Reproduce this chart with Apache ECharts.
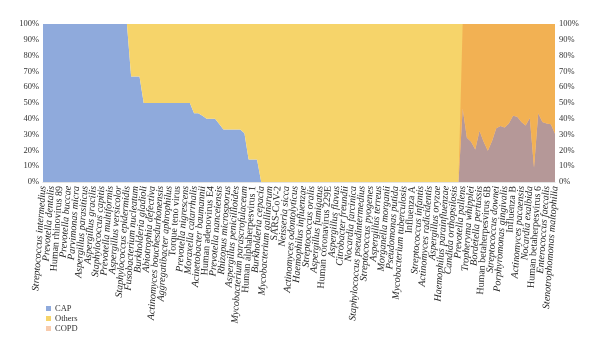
<!DOCTYPE html>
<html>
<head>
<meta charset="utf-8">
<script src="https://cdn.jsdelivr.net/npm/echarts@6/dist/echarts.min.js"></script>
<style>html,body{margin:0;padding:0;background:#fff}#c{width:600px;height:349px}</style>
</head>
<body>
<div id="c"></div>
<script>
// Tick labels shown on the x axis (every other category is unlabeled in the source)
const labels = [
'Streptococcus intermedius','Prevotella dentalis','Human rhinovirus 89','Prevotella buccae','Parvimonas micra','Aspergillus parasiticus','Aspergillus gracilis','Staphylococcus capitis','Prevotella multiformis','Aspergillus versicolor','Staphylococcus epidermidis','Fusobacterium nucleatum','Burkholderia gladioli','Abiotrophia defectiva','Actinomyces bouchesdurhonensis','Aggregatibacter aphrophilus','Torque teno virus','Prevotella nigrescens','Moraxella catarrhalis','Acinetobacter baumannii','Human adenovirus E4','Prevotella nanceiensis','Rhizopus microsporus','Aspergillus penicillioides','Mycobacterium parascrofulaceum','Human alphaherpesvirus 1','Burkholderia cepacia','Mycobacterium gallinarum','SARS-CoV-2','Neisseria sicca','Actinomyces odontolyticus','Haemophilus influenzae','Streptococcus oralis','Aspergillus fumigatus','Human coronavirus 229E','Aspergillus flavus','Citrobacter freundii','Nocardia farcinica','Staphylococcus pseudintermedius','Streptococcus pyogenes','Aspergillus terreus','Morganella morganii','Pseudomonas putida','Mycobacterium tuberculosis','Influenza A','Streptococcus infantis','Actinomyces radicidentis','Aspergillus oryzae','Haemophilus parainfluenzae','Candida orthopsilosis','Prevotella pallens','Tropheryma whipplei','Bordetella pertussis','Human betaherpesvirus 6B','Streptococcus downei','Porphyromonas gingivalis','Influenza B','Actinomyces pacaensis','Nocardia exalbida','Human betaherpesvirus 6','Enterococcus faecalis','Stenotrophomonas maltophilia'
];
// Names printed upright (viruses); the rest are italic
const uprightNames = ['Human rhinovirus 89','Torque teno virus','Human adenovirus E4','Human alphaherpesvirus 1','SARS-CoV-2','Human coronavirus 229E','Influenza A','Human betaherpesvirus 6B','Influenza B','Human betaherpesvirus 6'];

// Series values (percent), 123 points
const capValues = [
100,100,100,100,100,100,100,100,100,100,100,100,100,100,100,100,100,100,100,100,100,
66.7,66.7,66.7,
50,50,50,50,50,50,50,50,50,50,50,50,
43.5,43.5,42,40,40,40,36.7,
33.3,33.3,33.3,33.3,33.3,30.8,
14.3,14.3,14.3,
0,0,0,0,0,0,0,0,0,0,0,0,0,0,0,0,0,0,0,0,0,0,0,0,
0,0,0,0,0,0,0,0,0,0,0,0,0,0,0,0,0,0,0,0,0,0,0,0,
46.5,28,25.5,20.5,32.5,25.5,19.7,26,34,35.5,34.5,37,42,41.3,38,35.8,40.5,9,43.5,38,37.1,36.5,30.5
];
const othersValues = [
0,0,0,0,0,0,0,0,0,0,0,0,0,0,0,0,0,0,0,0,0,
33.3,33.3,33.3,
50,50,50,50,50,50,50,50,50,50,50,50,
56.5,56.5,58,60,60,60,63.3,
66.7,66.7,66.7,66.7,66.7,69.2,
85.7,85.7,85.7,
100,100,100,100,100,100,100,100,100,100,100,100,100,100,100,100,100,100,100,100,100,100,100,100,
100,100,100,100,100,100,100,100,100,100,100,100,100,100,100,100,100,100,100,100,100,100,100,100,
53.5,72,74.5,79.5,67.5,74.5,80.3,74,66,64.5,65.5,63,58,58.7,62,64.2,59.5,91,56.5,62,62.9,63.5,69.5
];
const copdValues = [
0,0,0,0,0,0,0,0,0,0,0,0,0,0,0,0,0,0,0,0,0,
0,0,0,
0,0,0,0,0,0,0,0,0,0,0,0,
0,0,0,0,0,0,0,
0,0,0,0,0,0,
0,0,0,
0,0,0,0,0,0,0,0,0,0,0,0,0,0,0,0,0,0,0,0,0,0,0,0,
0,0,0,0,0,0,0,0,0,0,0,0,0,0,0,0,0,0,0,0,0,0,0,0,
100,100,100,100,100,100,100,100,100,100,100,100,100,100,100,100,100,100,100,100,100,100,100
];

const categories = capValues.map((v, i) => (i % 2 === 0 ? labels[i / 2] : ''));

const FF = 'Liberation Serif';
const chart = echarts.init(document.getElementById('c'));
const yAxisBase = {
  type: 'value', min: 0, max: 100, interval: 10,
  axisLine: {show: false}, axisTick: {show: false},
  axisLabel: {formatter: '{value}%', fontFamily: FF, fontSize: 8.5, color: '#333', margin: 4}
};
function xLabelAxis(italic, withLine) {
  return {
    type: 'category', data: categories, boundaryGap: false, position: 'bottom',
    axisTick: {show: false},
    axisLine: {show: withLine, lineStyle: {color: '#d9d9d9'}},
    splitLine: {show: false},
    axisLabel: {
      interval: 0, rotate: 86, margin: 4, showMinLabel: true, showMaxLabel: true,
      fontFamily: FF, fontSize: 10, color: '#222', fontStyle: italic ? 'italic' : 'normal',
      formatter: v => (v && (uprightNames.includes(v) !== italic)) ? v : ''
    }
  };
}
chart.setOption({
  animation: false,
  grid: {left: 43, right: 45, top: 24, bottom: 167},
  legend: {
    orient: 'vertical', left: 41, top: 299,
    itemWidth: 5, itemHeight: 5, itemGap: 1, icon: 'rect',
    textStyle: {fontFamily: FF, fontSize: 8.5, color: '#333', lineHeight: 9, padding: [0, 0, 0, -1]},
    data: ['CAP', 'Others', 'COPD']
  },
  xAxis: [xLabelAxis(true, true), xLabelAxis(false, false)],
  yAxis: [
    Object.assign({}, yAxisBase, {position: 'left', z: 3,
      splitLine: {lineStyle: {color: 'rgba(240,240,240,0.45)', width: 1}}}),
    Object.assign({}, yAxisBase, {position: 'right', splitLine: {show: false}})
  ],
  series: [
    {name: 'CAP', type: 'line', stack: 'main', data: capValues, showSymbol: false,
     lineStyle: {width: 0}, itemStyle: {color: '#8FAADC'}, areaStyle: {color: '#8FAADC', opacity: 1}},
    {name: 'Others', type: 'line', stack: 'main', data: othersValues, showSymbol: false,
     lineStyle: {width: 0}, itemStyle: {color: '#F6D46A'}, areaStyle: {color: '#F6D46A', opacity: 1}},
    {name: 'COPD', type: 'line', yAxisIndex: 1, data: copdValues, showSymbol: false,
     lineStyle: {width: 0}, itemStyle: {color: 'rgba(237,125,49,0.4)'}, areaStyle: {color: 'rgba(237,125,49,0.4)', opacity: 1}}
  ]
});
</script>
</body>
</html>
